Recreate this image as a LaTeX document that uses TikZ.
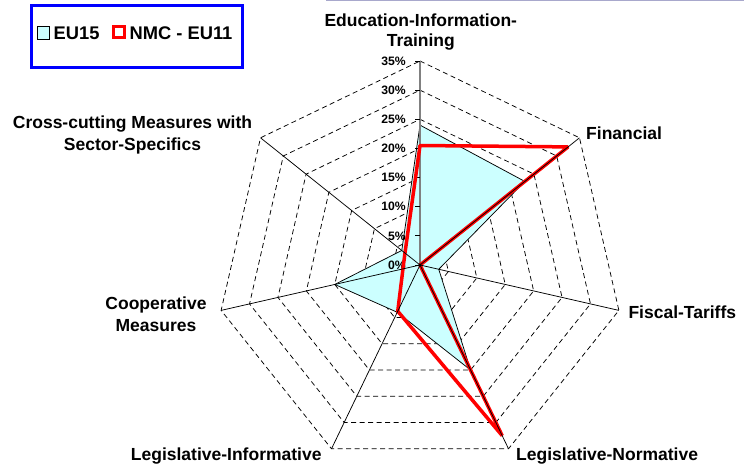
\documentclass[tikz,border=0pt]{standalone}
\usepackage{fontspec}
\setmainfont{Liberation Sans}
\definecolor{cyanlight}{HTML}{CCFFFF}
\definecolor{topline}{HTML}{A8A8CC}
\begin{document}
\begin{tikzpicture}[x=1pt,y=1pt,
  lbl/.style={font=\fontsize{17.5}{21.5}\selectfont\bfseries, inner sep=0pt},
  ticklbl/.style={font=\fontsize{12.2}{14}\selectfont\bfseries, inner sep=0pt, anchor=east},
  legtext/.style={font=\fontsize{18.3}{21}\selectfont\bfseries, inner sep=0pt, anchor=west},
  ring/.style={line width=0.75pt, black, dash pattern=on 5pt off 3.5pt},
  axisline/.style={line width=0.75pt, black},
  valaxis/.style={line width=2pt, gray},
  eufill/.style={fill=cyanlight, draw=black, line width=0.75pt, line join=miter},
  nmcline/.style={draw=red, line width=3.5pt, line join=bevel}]
\useasboundingbox (0,0) rectangle (744,464);
\draw[topline, line width=1.5pt] (326,463.4) -- (744,463.4);
\def\R{204}
\def\s{5.82857}
\begin{scope}[shift={(420,199)}]
  \coordinate (C) at (0,0);
  % axis tips
  \foreach \k in {0,...,6}{\coordinate (T\k) at ({90-\k*360/7}:\R);}
  % rings
  \foreach \l in {1,...,7}{
    \draw[ring] (90:\l*\R/7) \foreach \i in {1,...,6}{ -- ({90-\i*360/7}:\l*\R/7)} -- cycle;
  }
  % EU15 area
  \path[eufill] (90:24*\s) -- ({90-1*360/7}:23*\s) -- ({90-2*360/7}:3.3*\s)
     -- ({90-3*360/7}:20*\s) -- ({90-4*360/7}:9*\s) -- ({90-5*360/7}:15*\s)
     -- ({90-6*360/7}:4*\s) -- cycle;
  % value axis
  \draw[valaxis] (C) -- (T0);
  \foreach \l in {0,...,7}{\draw[line width=0.75pt] (-5,\l*\R/7) -- (0,\l*\R/7);}
  \foreach \l/\t in {0/0\%,1/5\%,2/10\%,3/15\%,4/20\%,5/25\%,6/30\%,7/35\%}{
    \node[ticklbl] (tk\l) at (-14,\l*\R/7) {\t};
  }
  % NMC line
  \draw[nmcline] (90:20.5*\s) -- ({90-1*360/7}:32.5*\s) -- (C)
     -- ({90-3*360/7}:32.5*\s) -- ({90-4*360/7}:8.8*\s) -- ({90-5*360/7}:3*\s)
     -- ({90-6*360/7}:3.3*\s) -- cycle;
  % other axes
  \foreach \k in {1,...,6}{\draw[axisline] (C) -- (T\k);}
  \fill (C) circle (1.6);
\end{scope}
% category labels
\node[lbl, align=center, anchor=north] (edu) at (420.8,450.5) {Education-Information-\\[-1.5pt]Training};
\node[lbl, anchor=base west] (fin) at (586,324.7) {Financial};
\node[lbl, anchor=base west] (fis) at (628.3,145.7) {Fiscal-Tariffs};
\node[lbl, anchor=base west] (lnorm) at (516,4) {Legislative-Normative};
\node[lbl, anchor=base east] (linf) at (321.7,4) {Legislative-Informative};
\node[lbl, align=center, anchor=north] (coop) at (156,167.3) {Cooperative\\Measures};
\node[lbl, align=center, anchor=north] (cross) at (132.5,348) {Cross-cutting Measures with\\Sector-Specifics};
% legend
\node[draw=blue, line width=3pt, minimum width=210.7, minimum height=62.7, anchor=north west, inner sep=0pt] (legend) at (30,460.3) {};
\node[draw=black, fill=cyanlight, line width=0.75pt, minimum size=12.5, inner sep=0pt] (sqeu) at (43.2,431) {};
\node[legtext] (teu) at (53.5,431) {EU15};
\node[draw=red, line width=2.6pt, minimum size=11.5, inner sep=0pt] (sqnmc) at (119,432) {};
\node[legtext] (tnmc) at (129.5,431) {NMC - EU11};
\end{tikzpicture}
\end{document}
